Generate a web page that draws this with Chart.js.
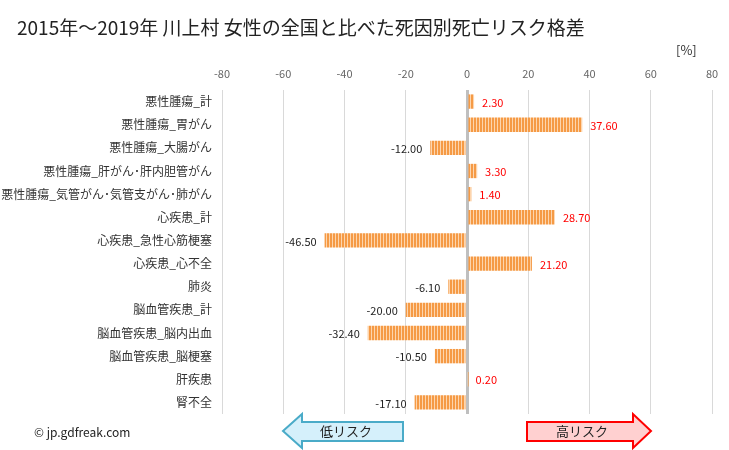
<!DOCTYPE html>
<html>
<head>
<meta charset="utf-8">
<script src="https://cdn.jsdelivr.net/npm/chart.js@4/dist/chart.umd.min.js"></script>
<style>
body { margin: 0; background: #fff; }
#wrap { position: relative; width: 729px; height: 450px; font-family: "Noto Sans CJK JP", "Noto Sans", sans-serif; }
#title { position: absolute; left: 17px; top: 13px; font-size: 19px; color: #222; white-space: nowrap; }
#unit { position: absolute; left: 676px; top: 40px; font-size: 13px; color: #333; }
#copy { position: absolute; left: 34px; top: 423px; font-size: 12px; color: #222; }
#arrows { position: absolute; left: 0; top: 0; }
canvas#c { position: absolute; left: 0; top: 0; }
</style>
</head>
<body>
<div id="wrap">
  <canvas id="c" width="729" height="450"></canvas>
  <div id="title">2015年～2019年 川上村 女性の全国と比べた死因別死亡リスク格差</div>
  <div id="unit">[%]</div>
  <div id="copy">© jp.gdfreak.com</div>
  <svg id="arrows" width="729" height="450">
    <polygon points="283,431 302,414 302,422 403,422 403,441 302,441 302,448" fill="#d5f0fb" stroke="#4aabc8" stroke-width="2"/>
    <text x="346" y="436" font-size="13" text-anchor="middle" fill="#222" font-family="Noto Sans CJK JP">低リスク</text>
    <polygon points="651,431 633,414 633,422 527,422 527,441 633,441 633,448" fill="#ffd0d0" stroke="#ff0000" stroke-width="2"/>
    <text x="582" y="436" font-size="13" text-anchor="middle" fill="#222" font-family="Noto Sans CJK JP">高リスク</text>
  </svg>
</div>
<script>
var categories = ["悪性腫瘍_計", "悪性腫瘍_胃がん", "悪性腫瘍_大腸がん", "悪性腫瘍_肝がん･肝内胆管がん",
    "悪性腫瘍_気管がん･気管支がん･肺がん", "心疾患_計", "心疾患_急性心筋梗塞", "心疾患_心不全",
    "肺炎", "脳血管疾患_計", "脳血管疾患_脳内出血", "脳血管疾患_脳梗塞", "肝疾患", "腎不全"];
var values = [2.30, 37.60, -12.00, 3.30, 1.40, 28.70, -46.50, 21.20, -6.10, -20.00, -32.40, -10.50, 0.20, -17.10];
var xMin = -80;
var xMax = 80;
var xStep = 20;

function stripePattern() {
    var p = document.createElement('canvas');
    p.width = 3;
    p.height = 4;
    var pc = p.getContext('2d');
    pc.fillStyle = '#f59a45';
    pc.fillRect(0, 0, 3, 4);
    pc.fillStyle = '#fdd5ad';
    pc.fillRect(2, 0, 1, 4);
    return document.getElementById('c').getContext('2d').createPattern(p, 'repeat');
}

// value labels next to the bar ends
var valueLabels = {
    id: 'valueLabels',
    afterDatasetsDraw: function (chart) {
        var ctx = chart.ctx;
        var meta = chart.getDatasetMeta(0);
        ctx.save();
        ctx.font = '11px "Noto Sans CJK JP", sans-serif';
        ctx.textBaseline = 'middle';
        meta.data.forEach(function (bar, i) {
            var v = values[i];
            if (v >= 0) {
                ctx.fillStyle = '#ff0000';
                ctx.textAlign = 'left';
                ctx.fillText(v.toFixed(2), bar.x + 8, bar.y + 1);
            } else {
                ctx.fillStyle = '#222';
                ctx.textAlign = 'right';
                ctx.fillText(v.toFixed(2), bar.x - 8, bar.y + 1);
            }
        });
        ctx.restore();
    }
};

var chart = new Chart(document.getElementById('c'), {
    type: 'bar',
    data: {
        labels: categories,
        datasets: [{
            data: values,
            backgroundColor: stripePattern(),
            borderColor: '#f59a45',
            borderWidth: 0,
            barPercentage: 0.62,
            categoryPercentage: 1.0
        }]
    },
    options: {
        indexAxis: 'y',
        responsive: false,
        animation: false,
        layout: { padding: { top: 66, bottom: 36, left: 0, right: 17 } },
        plugins: {
            legend: { display: false },
            tooltip: { enabled: false }
        },
        scales: {
            x: {
                position: 'top',
                min: xMin,
                max: xMax,
                ticks: {
                    stepSize: xStep,
                    color: '#666',
                    font: { size: 11, family: '"Noto Sans CJK JP", sans-serif' },
                    padding: 10
                },
                grid: {
                    drawTicks: false,
                    color: function (c) { return c.tick && c.tick.value === 0 ? '#bfbfbf' : '#d9d9d9'; },
                    lineWidth: function (c) { return c.tick && c.tick.value === 0 ? 3 : 1; }
                },
                border: { display: false },
                afterFit: function (s) { s.height = 24; }
            },
            y: {
                ticks: {
                    color: '#333',
                    font: { size: 12, family: '"Noto Sans CJK JP", sans-serif' },
                    padding: 2,
                    autoSkip: false
                },
                grid: { display: false },
                border: { display: false },
                afterFit: function (s) { s.width = 222; }
            }
        }
    },
    plugins: [valueLabels]
});
</script>
</body>
</html>
